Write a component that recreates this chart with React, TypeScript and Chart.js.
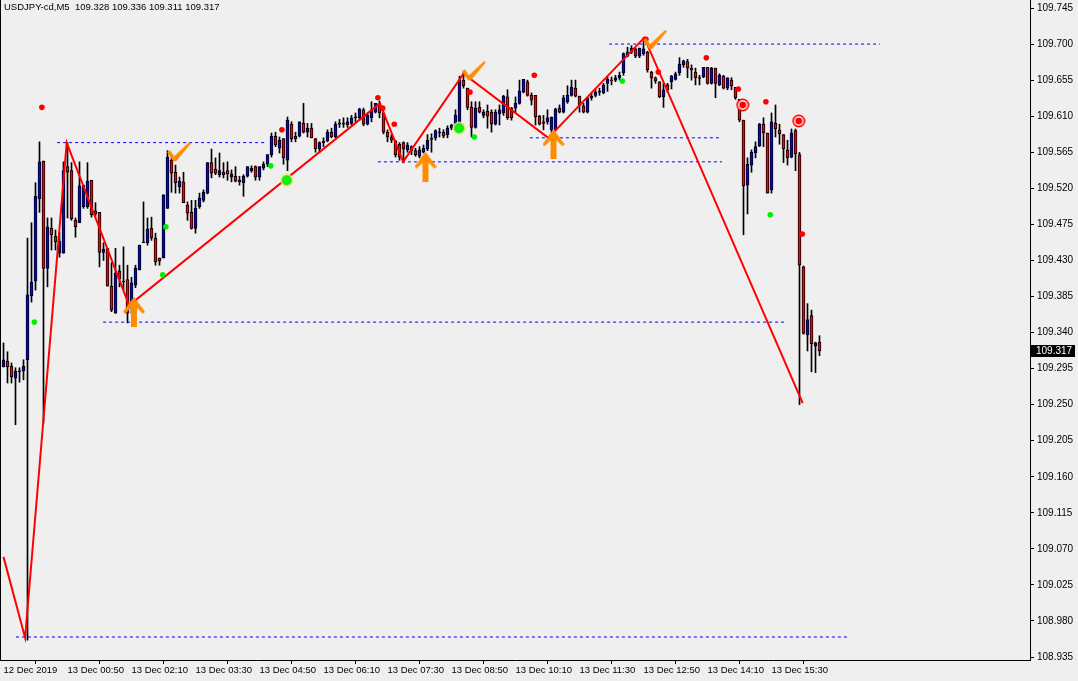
import React, { useEffect, useRef } from "react";
import { Chart, registerables } from "chart.js";

Chart.register(...registerables);

const symbolLabel = "USDJPY-cd,M5";
const lastQuote = [109.328, 109.336, 109.311, 109.317];

const xTickLabels = [
  "12 Dec 2019", "13 Dec 00:50", "13 Dec 02:10", "13 Dec 03:30", "13 Dec 04:50",
  "13 Dec 06:10", "13 Dec 07:30", "13 Dec 08:50", "13 Dec 10:10", "13 Dec 11:30",
  "13 Dec 12:50", "13 Dec 14:10", "13 Dec 15:30",
];
const barsPerTick = 16;

const yTicks = [
  109.745, 109.7, 109.655, 109.61, 109.565, 109.52, 109.475, 109.43, 109.385, 109.34,
  109.295, 109.25, 109.205, 109.16, 109.115, 109.07, 109.025, 108.98, 108.935,
];

const opens = [
  109.297, 109.304, 109.298, 109.283, 109.292, 109.292, 109.306, 109.386, 109.404, 109.507,
  109.554, 109.420, 109.470, 109.460, 109.439, 109.439, 109.547, 109.542, 109.480, 109.477,
  109.497, 109.497, 109.530, 109.492, 109.490, 109.440, 109.445, 109.398, 109.364, 109.417,
  109.404, 109.406, 109.371, 109.399, 109.418, 109.452, 109.452, 109.470, 109.458, 109.433,
  109.433, 109.495, 109.555, 109.540, 109.522, 109.528, 109.499, 109.490, 109.470, 109.497,
  109.505, 109.514, 109.552, 109.544, 109.537, 109.540, 109.542, 109.534, 109.535, 109.530,
  109.527, 109.535, 109.542, 109.547, 109.534, 109.545, 109.550, 109.562, 109.585, 109.570,
  109.582, 109.555, 109.600, 109.585, 109.585, 109.601, 109.590, 109.595, 109.582, 109.569,
  109.579, 109.579, 109.590, 109.584, 109.600, 109.600, 109.599, 109.601, 109.608, 109.608,
  109.618, 109.600, 109.608, 109.615, 109.626, 109.614, 109.590, 109.584, 109.579, 109.575,
  109.577, 109.568, 109.572, 109.567, 109.560, 109.565, 109.569, 109.582, 109.583, 109.589,
  109.590, 109.587, 109.595, 109.595, 109.596, 109.655, 109.645, 109.621, 109.596, 109.621,
  109.611, 109.616, 109.615, 109.600, 109.613, 109.614, 109.634, 109.620, 109.620, 109.626,
  109.640, 109.653, 109.636, 109.636, 109.610, 109.603, 109.603, 109.593, 109.593, 109.620,
  109.615, 109.628, 109.636, 109.645, 109.635, 109.623, 109.615, 109.633, 109.636, 109.640,
  109.639, 109.651, 109.655, 109.655, 109.658, 109.664, 109.685, 109.690, 109.694, 109.685,
  109.688, 109.690, 109.665, 109.658, 109.653, 109.634, 109.649, 109.653, 109.656, 109.664,
  109.674, 109.678, 109.670, 109.665, 109.658, 109.659, 109.671, 109.651, 109.670, 109.649,
  109.660, 109.645, 109.655, 109.646, 109.631, 109.605, 109.524, 109.549, 109.564, 109.573,
  109.600, 109.589, 109.518, 109.601, 109.593, 109.587, 109.568, 109.559, 109.592, 109.562,
  109.422, 109.337, 109.361, 109.323, 109.328,
];

const highs = [
  109.327, 109.316, 109.302, 109.296, 109.296, 109.306, 109.458, 109.477, 109.527, 109.578,
  109.554, 109.483, 109.483, 109.468, 109.465, 109.553, 109.577, 109.552, 109.483, 109.553,
  109.524, 109.552, 109.530, 109.502, 109.490, 109.452, 109.445, 109.427, 109.445, 109.424,
  109.447, 109.424, 109.409, 109.424, 109.449, 109.503, 109.483, 109.484, 109.464, 109.433,
  109.512, 109.567, 109.558, 109.549, 109.534, 109.540, 109.503, 109.505, 109.505, 109.514,
  109.518, 109.552, 109.569, 109.558, 109.564, 109.552, 109.553, 109.543, 109.547, 109.535,
  109.537, 109.547, 109.548, 109.548, 109.547, 109.553, 109.562, 109.589, 109.590, 109.584,
  109.582, 109.609, 109.603, 109.590, 109.603, 109.626, 109.601, 109.601, 109.582, 109.578,
  109.583, 109.593, 109.595, 109.603, 109.606, 109.608, 109.608, 109.611, 109.614, 109.620,
  109.620, 109.614, 109.628, 109.626, 109.629, 109.615, 109.593, 109.587, 109.580, 109.577,
  109.578, 109.577, 109.573, 109.570, 109.572, 109.574, 109.587, 109.588, 109.593, 109.595,
  109.593, 109.598, 109.600, 109.618, 109.660, 109.665, 109.645, 109.628, 109.628, 109.628,
  109.618, 109.624, 109.618, 109.618, 109.624, 109.636, 109.643, 109.621, 109.634, 109.655,
  109.656, 109.655, 109.639, 109.636, 109.611, 109.611, 109.618, 109.609, 109.620, 109.624,
  109.636, 109.648, 109.655, 109.655, 109.635, 109.626, 109.633, 109.639, 109.643, 109.645,
  109.651, 109.659, 109.659, 109.661, 109.665, 109.689, 109.696, 109.698, 109.695, 109.695,
  109.708, 109.691, 109.666, 109.659, 109.653, 109.651, 109.651, 109.661, 109.665, 109.683,
  109.680, 109.681, 109.674, 109.670, 109.661, 109.671, 109.671, 109.671, 109.670, 109.663,
  109.661, 109.658, 109.658, 109.646, 109.631, 109.605, 109.558, 109.568, 109.578, 109.601,
  109.608, 109.589, 109.614, 109.624, 109.600, 109.587, 109.580, 109.594, 109.594, 109.565,
  109.423, 109.376, 109.368, 109.328, 109.336,
];

const lows = [
  109.297, 109.277, 109.277, 109.225, 109.278, 109.281, 108.956, 109.378, 109.393, 109.490,
  109.227, 109.397, 109.443, 109.443, 109.434, 109.439, 109.483, 109.480, 109.459, 109.477,
  109.495, 109.495, 109.484, 109.485, 109.422, 109.430, 109.398, 109.366, 109.364, 109.397,
  109.393, 109.352, 109.364, 109.396, 109.418, 109.452, 109.449, 109.455, 109.424, 109.424,
  109.433, 109.495, 109.515, 109.514, 109.514, 109.502, 109.480, 109.469, 109.464, 109.495,
  109.503, 109.513, 109.533, 109.537, 109.534, 109.533, 109.530, 109.528, 109.528, 109.524,
  109.510, 109.534, 109.540, 109.530, 109.530, 109.543, 109.547, 109.559, 109.572, 109.564,
  109.550, 109.542, 109.578, 109.578, 109.584, 109.589, 109.584, 109.583, 109.565, 109.565,
  109.572, 109.578, 109.583, 109.583, 109.596, 109.596, 109.596, 109.599, 109.603, 109.605,
  109.598, 109.599, 109.603, 109.614, 109.608, 109.588, 109.578, 109.577, 109.559, 109.555,
  109.552, 109.565, 109.562, 109.560, 109.558, 109.564, 109.567, 109.565, 109.580, 109.584,
  109.583, 109.583, 109.593, 109.592, 109.595, 109.645, 109.618, 109.584, 109.595, 109.614,
  109.608, 109.595, 109.590, 109.599, 109.599, 109.611, 109.606, 109.605, 109.615, 109.625,
  109.639, 109.635, 109.624, 109.599, 109.599, 109.593, 109.600, 109.590, 109.593, 109.614,
  109.614, 109.626, 109.635, 109.634, 109.615, 109.614, 109.614, 109.630, 109.634, 109.636,
  109.638, 109.641, 109.649, 109.653, 109.655, 109.661, 109.684, 109.688, 109.683, 109.683,
  109.686, 109.665, 109.645, 109.651, 109.633, 109.621, 109.640, 109.644, 109.655, 109.661,
  109.671, 109.658, 109.655, 109.649, 109.649, 109.658, 109.650, 109.650, 109.633, 109.648,
  109.644, 109.643, 109.643, 109.631, 109.603, 109.462, 109.488, 109.540, 109.558, 109.572,
  109.572, 109.514, 109.514, 109.584, 109.575, 109.552, 109.549, 109.558, 109.542, 109.250,
  109.338, 109.317, 109.291, 109.290, 109.311,
];

const closes = [
  109.306, 109.297, 109.285, 109.292, 109.291, 109.298, 109.387, 109.403, 109.510, 109.553,
  109.420, 109.472, 109.462, 109.453, 109.454, 109.542, 109.540, 109.482, 109.472, 109.523,
  109.524, 109.529, 109.487, 109.488, 109.440, 109.444, 109.398, 109.368, 109.414, 109.407,
  109.403, 109.364, 109.402, 109.420, 109.449, 109.453, 109.469, 109.458, 109.428, 109.429,
  109.512, 109.559, 109.539, 109.527, 109.529, 109.502, 109.489, 109.470, 109.495, 109.508,
  109.515, 109.552, 109.539, 109.539, 109.542, 109.537, 109.538, 109.538, 109.529, 109.528,
  109.535, 109.547, 109.545, 109.534, 109.547, 109.550, 109.562, 109.585, 109.574, 109.580,
  109.558, 109.605, 109.582, 109.582, 109.603, 109.590, 109.595, 109.583, 109.569, 109.577,
  109.577, 109.590, 109.584, 109.600, 109.601, 109.601, 109.603, 109.608, 109.609, 109.619,
  109.600, 109.611, 109.618, 109.626, 109.614, 109.590, 109.584, 109.580, 109.562, 109.559,
  109.569, 109.574, 109.567, 109.562, 109.568, 109.570, 109.580, 109.581, 109.592, 109.590,
  109.585, 109.595, 109.599, 109.611, 109.655, 109.648, 109.621, 109.596, 109.620, 109.615,
  109.615, 109.610, 109.600, 109.615, 109.618, 109.635, 109.608, 109.608, 109.626, 109.641,
  109.656, 109.636, 109.630, 109.609, 109.600, 109.601, 109.608, 109.609, 109.619, 109.615,
  109.633, 109.636, 109.646, 109.635, 109.623, 109.615, 109.633, 109.635, 109.640, 109.641,
  109.649, 109.656, 109.654, 109.658, 109.661, 109.688, 109.690, 109.695, 109.685, 109.695,
  109.694, 109.668, 109.658, 109.654, 109.634, 109.643, 109.643, 109.660, 109.663, 109.675,
  109.679, 109.670, 109.668, 109.658, 109.657, 109.671, 109.651, 109.670, 109.651, 109.661,
  109.645, 109.658, 109.648, 109.633, 109.605, 109.523, 109.550, 109.565, 109.572, 109.600,
  109.589, 109.514, 109.603, 109.594, 109.588, 109.569, 109.558, 109.589, 109.563, 109.424,
  109.339, 109.356, 109.326, 109.327, 109.317,
];

// ZigZag vertices (bar index, price)
const zigzagBars = [0, 5.4, 15.8, 31.4, 94.1, 99.9, 115, 136.2, 160.2, 199.8];
const zigzagPrices = [109.06, 108.959, 109.577, 109.374, 109.626, 109.553, 109.663, 109.583, 109.708, 109.252];

// Horizontal support / resistance levels
const levelPrices = [109.577, 109.353, 109.553, 109.583, 109.7, 108.96];
const levelFromBars = [13.4, 24.9, 93.6, 131.6, 151.4, 3.1];
const levelToBars = [65.4, 195.4, 179.6, 179.1, 219.1, 211.6];

const redDotBars = [9.6, 69.6, 93.6, 94.8, 97.7, 116.6, 132.7, 160.6, 163.7, 175.7, 183.7, 190.6, 199.7];
const redDotPrices = [109.621, 109.593, 109.633, 109.62, 109.6, 109.64, 109.661, 109.706, 109.665, 109.683, 109.644, 109.628, 109.463];

const greenDotBars = [7.7, 39.8, 40.6, 66.8, 117.7, 154.7, 191.7];
const greenDotPrices = [109.353, 109.412, 109.472, 109.548, 109.584, 109.654, 109.487];

const greenRingBars = [70.8, 113.9];
const greenRingPrices = [109.53, 109.595];
const redRingBars = [184.8, 198.8];
const redRingPrices = [109.624, 109.604];

const upArrowBars = [32.6, 105.5, 137.5];
const upArrowPrices = [109.366, 109.547, 109.575];
const checkBars = [43.9, 117.6, 162.9];
const checkPrices = [109.565, 109.666, 109.705];

const FONT = '"Liberation Sans", Arial, sans-serif';

function pts(xs: number[], ys: number[]) {
  return xs.map((x, i) => ({ x, y: ys[i] }));
}

function makeArrow(): HTMLCanvasElement {
  const c = document.createElement("canvas");
  c.width = 22;
  c.height = 30;
  const g = c.getContext("2d")!;
  g.fillStyle = "#FF8C00";
  g.beginPath();
  g.moveTo(11, 0);
  g.lineTo(22, 15);
  g.lineTo(20, 17);
  g.lineTo(14, 11);
  g.lineTo(14, 30);
  g.lineTo(8, 30);
  g.lineTo(8, 11);
  g.lineTo(2, 17);
  g.lineTo(0, 15);
  g.closePath();
  g.fill();
  return c;
}

function makeCheck(): HTMLCanvasElement {
  const c = document.createElement("canvas");
  c.width = 26;
  c.height = 22;
  const g = c.getContext("2d")!;
  g.fillStyle = "#FF8C00";
  g.beginPath();
  g.moveTo(1, 11);
  g.lineTo(4, 9);
  g.lineTo(8, 15);
  g.lineTo(23, 1);
  g.lineTo(25, 2);
  g.lineTo(10, 20);
  g.lineTo(7, 20);
  g.closePath();
  g.fill();
  return c;
}

function makeRing(outer: string, mid: string, inner: string): HTMLCanvasElement {
  const c = document.createElement("canvas");
  c.width = 14;
  c.height = 14;
  const g = c.getContext("2d")!;
  const circ = (r: number, col: string) => {
    g.fillStyle = col;
    g.beginPath();
    g.arc(7, 7, r, 0, Math.PI * 2);
    g.fill();
  };
  circ(6.5, outer);
  circ(5, mid);
  circ(3.3, inner);
  return c;
}

export default function App() {
  const ref = useRef<HTMLCanvasElement | null>(null);

  useEffect(() => {
    const canvas = ref.current;
    if (!canvas) return;
    const last = closes.length - 1;

    const wicks = opens.map((_, i) => ({ x: i, y: [lows[i], highs[i]] }));
    const bodies = opens.map((o, i) => ({ x: i, y: [Math.min(o, closes[i]), Math.max(o, closes[i])] }));
    const bodyColors = opens.map((o, i) => (closes[i] >= o ? "#0000FF" : "#FF0000"));

    const levelSets = levelPrices.map((p, k) => ({
      type: "line" as const,
      data: [
        { x: levelFromBars[k], y: p },
        { x: levelToBars[k], y: p },
      ],
      borderColor: "#0000FF",
      borderWidth: 1,
      borderDash: [3, 3],
      pointRadius: 0,
      order: 2,
    }));

    const framePlugin = {
      id: "frame",
      afterDraw(chart: any) {
        const { ctx, chartArea } = chart;
        ctx.save();
        ctx.strokeStyle = "#000";
        ctx.lineWidth = 1;
        ctx.beginPath();
        ctx.moveTo(chartArea.left + 0.5, chartArea.top);
        ctx.lineTo(chartArea.left + 0.5, chartArea.bottom);
        ctx.stroke();
        ctx.restore();
      },
    };

    const priceTagPlugin = {
      id: "priceTag",
      afterDraw(chart: any) {
        const { ctx, chartArea } = chart;
        const y = Math.round(chart.scales.y.getPixelForValue(closes[last]));
        ctx.save();
        ctx.fillStyle = "#000";
        ctx.fillRect(chartArea.right + 1, y - 6, 44, 12);
        ctx.fillStyle = "#FFF";
        ctx.font = `10px ${FONT}`;
        ctx.textBaseline = "middle";
        ctx.fillText(closes[last].toFixed(3), chartArea.right + 6, y + 0.5);
        ctx.restore();
      },
    };

    const chart = new Chart(canvas, {
      type: "bar",
      data: {
        datasets: [
          {
            type: "scatter" as const,
            data: pts(upArrowBars, upArrowPrices),
            pointStyle: makeArrow() as any,
            pointRadius: 5,
            order: -2,
          },
          {
            type: "scatter" as const,
            data: pts(checkBars, checkPrices),
            pointStyle: makeCheck() as any,
            pointRadius: 5,
            order: -2,
          },
          {
            type: "scatter" as const,
            data: pts(greenRingBars, greenRingPrices),
            pointStyle: makeRing("#CCFF66", "#33CC33", "#00FF00") as any,
            pointRadius: 5,
            order: -1,
          },
          {
            type: "scatter" as const,
            data: pts(redRingBars, redRingPrices),
            pointStyle: makeRing("#FF0000", "#FFD0D0", "#FF0000") as any,
            pointRadius: 5,
            order: -1,
          },
          {
            type: "scatter" as const,
            data: pts(redDotBars, redDotPrices),
            pointStyle: "circle",
            pointRadius: 2.8,
            pointBackgroundColor: "#FF0000",
            pointBorderWidth: 0,
            order: -1,
          },
          {
            type: "scatter" as const,
            data: pts(greenDotBars, greenDotPrices),
            pointStyle: "circle",
            pointRadius: 2.8,
            pointBackgroundColor: "#00EE00",
            pointBorderWidth: 0,
            order: -1,
          },
          {
            type: "line" as const,
            data: pts(zigzagBars, zigzagPrices),
            borderColor: "#FF0000",
            borderWidth: 2,
            pointRadius: 0,
            order: 1,
          },
          ...levelSets,
          {
            type: "bar" as const,
            data: bodies as any,
            backgroundColor: bodyColors,
            borderColor: "#000000",
            borderWidth: 1,
            borderSkipped: false,
            barThickness: 3,
            minBarLength: 1,
            grouped: false,
            order: 3,
          },
          {
            type: "bar" as const,
            data: wicks as any,
            backgroundColor: "#000000",
            borderWidth: 0,
            barThickness: 1,
            grouped: false,
            order: 4,
          },
        ] as any,
      },
      options: {
        animation: false,
        responsive: false,
        maintainAspectRatio: false,
        layout: { padding: 0, autoPadding: false },
        plugins: {
          legend: { display: false },
          tooltip: { enabled: false },
          title: { display: false },
        },
        scales: {
          x: {
            type: "linear",
            offset: false,
            min: -0.875,
            max: 256.625,
            afterBuildTicks: (s: any) => {
              s.ticks = xTickLabels.map((_, k) => ({ value: k * barsPerTick }));
            },
            afterFit: (s: any) => {
              s.height = 21;
              s.paddingLeft = 0;
              s.paddingRight = 0;
              s.paddingTop = 0;
              s.paddingBottom = 0;
            },
            grid: { drawOnChartArea: false, drawTicks: true, tickLength: 4, color: "#000" },
            border: { display: true, color: "#000" },
            ticks: {
              autoSkip: false,
              maxRotation: 0,
              minRotation: 0,
              align: "start",
              padding: 1,
              color: "#000",
              font: { family: FONT, size: 9.5 },
              callback: (_v: any, idx: number) => xTickLabels[idx],
            },
          },
          y: {
            type: "linear",
            position: "right",
            min: 108.9313,
            max: 109.755,
            afterBuildTicks: (s: any) => {
              s.ticks = yTicks.map((v) => ({ value: v }));
            },
            afterFit: (s: any) => {
              s.width = 48;
              s.paddingTop = 0;
              s.paddingBottom = 0;
              s.paddingLeft = 0;
              s.paddingRight = 0;
            },
            grid: { drawOnChartArea: false, drawTicks: true, tickLength: 4, color: "#000" },
            border: { display: true, color: "#000" },
            ticks: {
              autoSkip: false,
              padding: 3,
              color: "#000",
              font: { family: FONT, size: 10 },
              callback: (v: any) => Number(v).toFixed(3),
            },
          },
        },
      } as any,
      plugins: [framePlugin, priceTagPlugin],
    });

    return () => chart.destroy();
  }, []);

  return (
    <div
      style={{
        position: "fixed",
        left: 0,
        top: 0,
        width: 1078,
        height: 681,
        background: "#EFEFEF",
        overflow: "hidden",
      }}
    >
      <canvas ref={ref} width={1078} height={681} style={{ position: "absolute", left: 0, top: 0 }} />
      <div
        style={{
          position: "absolute",
          left: 4,
          top: 2,
          font: `9.5px ${FONT}`,
          lineHeight: 1,
          color: "#000",
          whiteSpace: "pre",
        }}
      >
        {symbolLabel + "  " + lastQuote.map((v) => v.toFixed(3)).join(" ")}
      </div>
    </div>
  );
}
